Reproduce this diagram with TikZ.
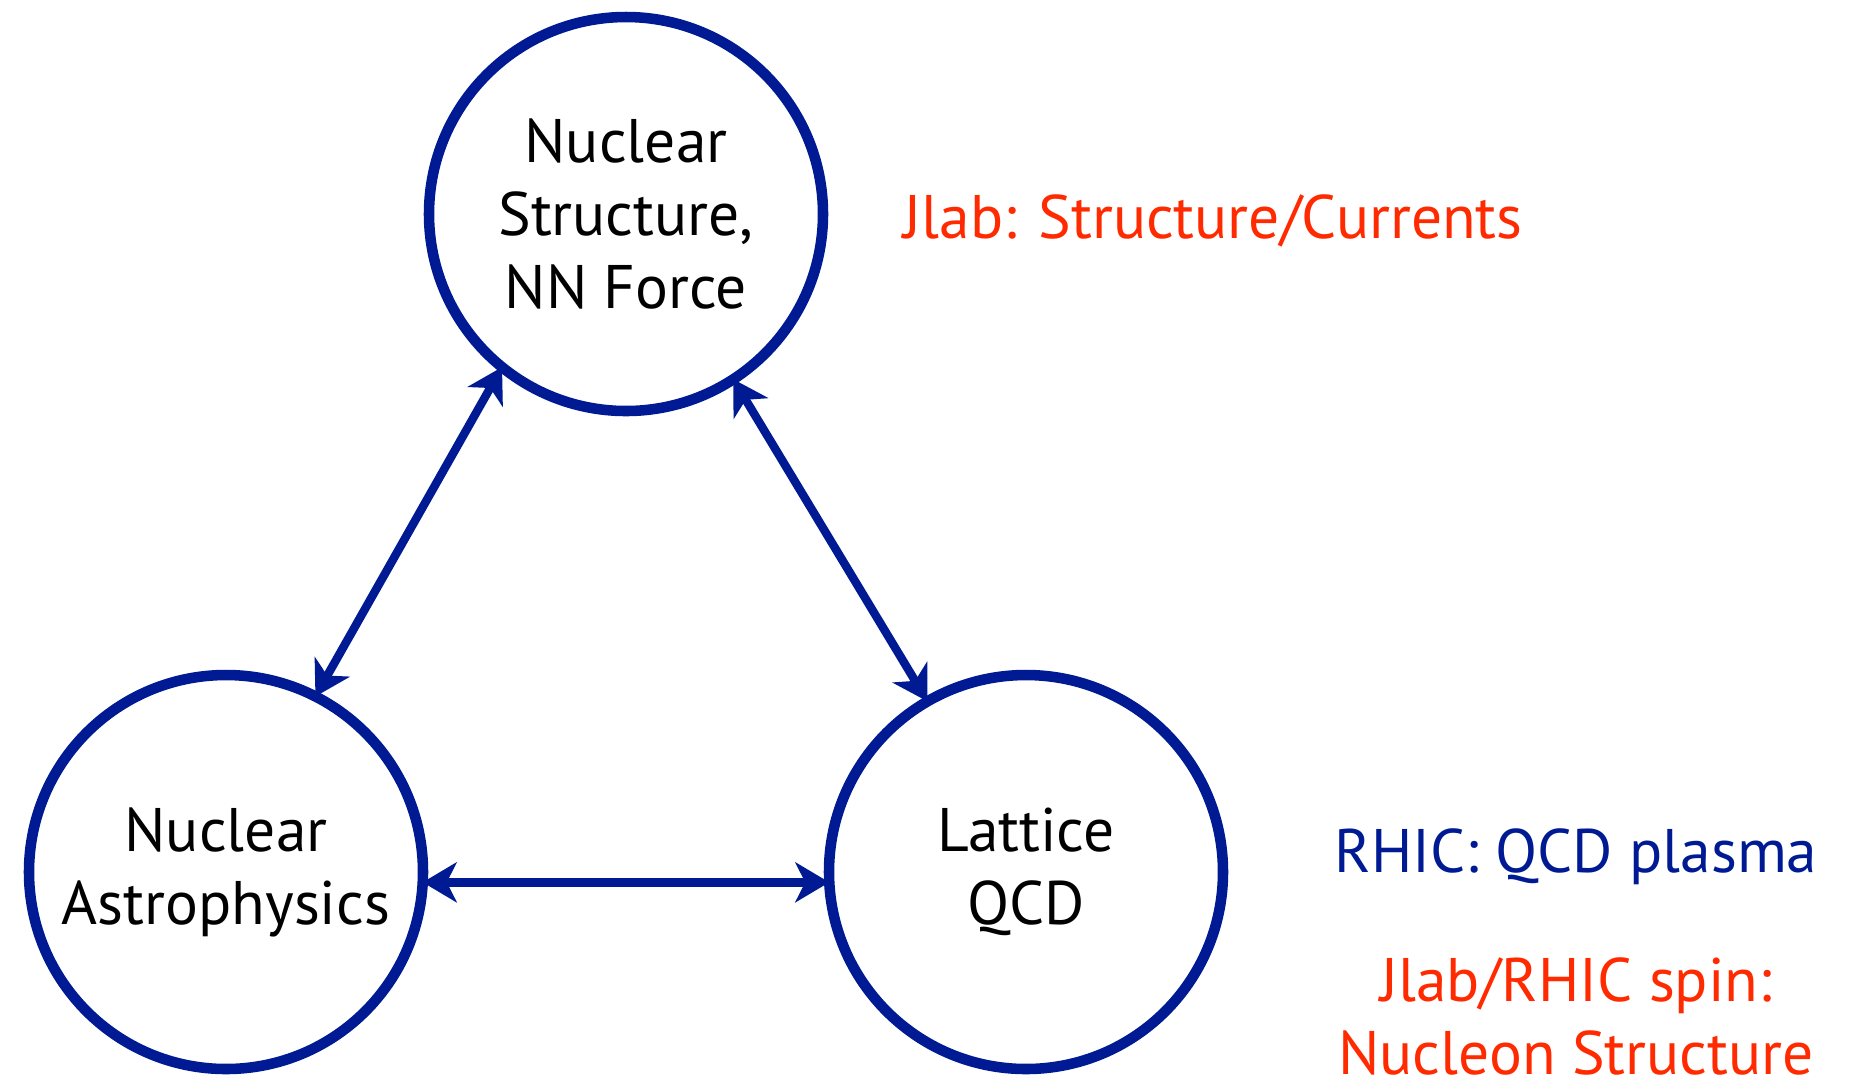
\documentclass[tikz,border=0pt]{standalone}
\usepackage{fontspec}
\setmainfont{PT Sans}
\usetikzlibrary{positioning,arrows.meta}
\definecolor{navy}{HTML}{001A94}
\definecolor{flame}{HTML}{FF2A00}

\begin{document}
\begin{tikzpicture}[
  font=\fontsize{17.5}{20.8}\selectfont,
  field/.style={circle, draw=navy, line width=3pt, minimum size=3.94cm,
                inner sep=0pt, outer sep=0pt, align=center},
  link/.style={draw=navy, line width=2.4pt,
               {Stealth[length=3.4mm, width=4mm, inset=1mm]}-{Stealth[length=3.4mm, width=4mm, inset=1mm]}},
  note/.style={align=center, inner sep=0pt},
]
\useasboundingbox (0,0) rectangle (18.67,-10.90);

% the three fields
\node[field] (structure) at (6.26,-2.14) {Nuclear\\Structure,\\NN Force};
\node[field] (astro) at (2.26,-8.72) {Nuclear\\Astrophysics};
\node[field] (lattice) at (10.26,-8.72) {Lattice\\QCD};

\draw[link] (structure.231) -- (astro.63);
\draw[link] (structure.303) -- (lattice.120);
\draw[link] (astro.-3) -- (lattice.183);

% experiments
\node[note, text=flame, right=0.80cm of structure, yshift=-0.07cm] (jlab) {Jlab: Structure/Currents};
\node[note, text=navy, right=1.11cm of lattice, yshift=0.15cm] (rhic) {RHIC: QCD plasma};
\node[note, text=flame, below=0.71cm of rhic] (spin) {Jlab/RHIC spin:\\Nucleon Structure};

\end{tikzpicture}
\end{document}
